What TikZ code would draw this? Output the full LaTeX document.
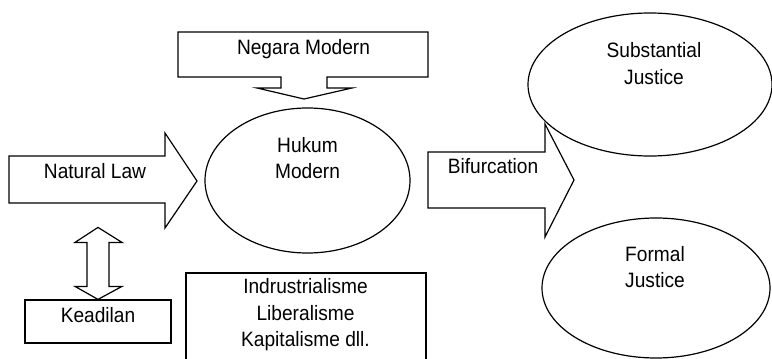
\documentclass[tikz,border=0pt]{standalone}
\usepackage{fontspec}
\setmainfont[FakeStretch=0.92]{Liberation Sans}
\usetikzlibrary{positioning,shapes.geometric}

\begin{document}
\begin{tikzpicture}[
    x=1pt, y=-1pt,
    font=\fontsize{20.8}{26.5}\selectfont,
    blk/.style={
        draw=black,
        line width=1.2pt,
        line join=miter
    },
    oval/.style={
        ellipse,
        draw=black,
        line width=1.2pt,
        inner sep=0pt
    },
    plain/.style={
        draw=black,
        line width=1.2pt,
        inner sep=0pt
    },
    txt/.style={
        inner sep=0pt,
        align=center
    }
]
\useasboundingbox (0,0) rectangle (772,359);

% centre
\node[oval, minimum width=205pt, minimum height=145pt] (hukum) at (307.5,180.5) {};
\node[txt] (hukumtxt) at (307.5,158) {Hukum\\Modern};

% top callout
\draw[blk] (178,32) -- (428,32) -- (428,77) -- (327,77) -- (327,88) -- (352,88)
    -- (304,99) -- (257,88) -- (281,88) -- (281,77) -- (178,77) -- cycle;
\node[txt, anchor=base] (negara) at (303.5,54) {Negara Modern};

% left side
\draw[blk] (9,156) -- (165,156) -- (165,133) -- (197,181) -- (165,228)
    -- (165,203) -- (9,203) -- cycle;
\node[txt, anchor=base] (natlaw) at (95,178) {Natural Law};

\node[plain, minimum width=146pt, minimum height=43pt] (keadilan) at (98,321.5) {};
\node[txt, anchor=base] (keadilantxt) at (98,322) {Keadilan};

\draw[blk] (keadilan.north) -- ++(-23,-13) -- ++(12,0) -- ++(0,-44) -- ++(-12,0)
    -- ++(23,-15) -- ++(24,15) -- ++(-13,0) -- ++(0,44) -- ++(13,0) -- cycle;

% bottom box
\node[plain, minimum width=240pt, minimum height=100pt] (indus) at (306,323) {};
\node[txt] (industxt) at (305.5,315) {Indrustrialisme\\Liberalisme\\Kapitalisme dll.};

% right side
\draw[blk] (428,152) -- (545,152) -- (545,124) -- (574,180) -- (545,237)
    -- (545,208) -- (428,208) -- cycle;
\node[txt, anchor=base] (bifur) at (493,173) {Bifurcation};

\node[oval, minimum width=244pt, minimum height=143pt] (subst) at (650,84.5) {};
\node[txt] (substtxt) at (654,63.5) {Substantial\\Justice};

\node[oval, minimum width=228pt, minimum height=140pt] (formal) at (656,288) {};
\node[txt] (formaltxt) at (655,267) {Formal\\Justice};

\end{tikzpicture}
\end{document}
